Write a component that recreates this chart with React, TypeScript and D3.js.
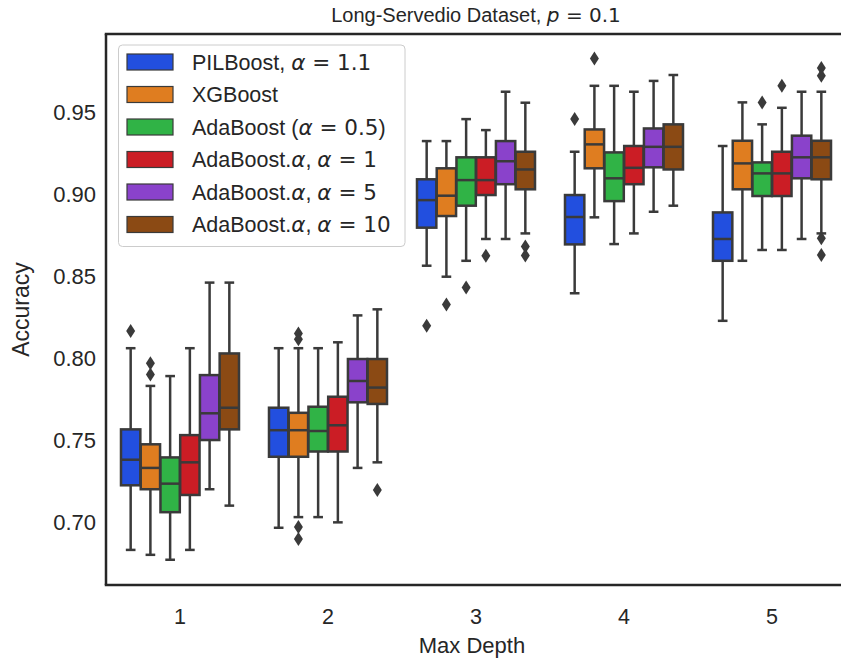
import React from "react";
import * as d3 from "d3";

// ---- data ----
const depths = ["1", "2", "3", "4", "5"];
const yTicks = [0.7, 0.75, 0.8, 0.85, 0.9, 0.95];

// [whisker low, q1, median, q3, whisker high] per depth
const pilboostStats = [
  [0.683, 0.7224, 0.738, 0.7565, 0.806],
  [0.6965, 0.7398, 0.756, 0.7697, 0.806],
  [0.8563, 0.8795, 0.8963, 0.909, 0.9323],
  [0.8395, 0.8693, 0.886, 0.8994, 0.9258],
  [0.8227, 0.8593, 0.8726, 0.8888, 0.9293],
];
const pilboostFliers = [[0.8165], [], [0.8197], [0.9457], []];

const xgboostStats = [
  [0.68, 0.72, 0.733, 0.7474, 0.783],
  [0.703, 0.7398, 0.756, 0.7666, 0.806],
  [0.8496, 0.8866, 0.899, 0.9157, 0.9323],
  [0.8858, 0.9157, 0.9303, 0.9394, 0.966],
  [0.8593, 0.9029, 0.9187, 0.9325, 0.9559],
];
const xgboostFliers = [[0.7968, 0.79], [0.815, 0.8115, 0.697, 0.6896], [0.8327], [0.9827], []];

const adaHalfStats = [
  [0.677, 0.706, 0.7234, 0.7394, 0.789],
  [0.703, 0.743, 0.7555, 0.7703, 0.806],
  [0.8593, 0.8929, 0.9085, 0.9224, 0.9457],
  [0.8695, 0.8957, 0.9096, 0.9254, 0.966],
  [0.8659, 0.8988, 0.9126, 0.9193, 0.9425],
];
const adaHalfFliers = [[], [], [0.843], [], [0.9559]];

const ada1Stats = [
  [0.683, 0.7165, 0.7364, 0.753, 0.806],
  [0.6998, 0.743, 0.759, 0.7764, 0.8096],
  [0.8726, 0.8994, 0.9085, 0.9224, 0.939],
  [0.876, 0.906, 0.916, 0.9293, 0.9624],
  [0.8659, 0.8988, 0.9126, 0.9258, 0.9526],
];
const ada1Fliers = [[], [], [0.8624], [], [0.966]];

const ada5Stats = [
  [0.72, 0.75, 0.7663, 0.7896, 0.846],
  [0.733, 0.773, 0.786, 0.7994, 0.826],
  [0.8726, 0.906, 0.92, 0.9323, 0.9624],
  [0.8892, 0.9163, 0.9288, 0.94, 0.969],
  [0.8726, 0.9096, 0.9224, 0.9356, 0.9624],
];
const ada5Fliers = [[], [], [], [], []];

const ada10Stats = [
  [0.71, 0.7565, 0.7697, 0.8028, 0.846],
  [0.7364, 0.772, 0.782, 0.7994, 0.8297],
  [0.876, 0.9029, 0.915, 0.9258, 0.9557],
  [0.8929, 0.915, 0.9288, 0.9425, 0.9726],
  [0.876, 0.909, 0.9224, 0.9325, 0.9624],
];
const ada10Fliers = [[], [0.7195], [0.868, 0.8625], [], [0.873, 0.8628, 0.9768, 0.9722]];

const seriesNames = ["pil", "xgb", "adaHalf", "ada1", "ada5", "ada10"];
const seriesColors = ["#224fdf", "#df7d20", "#30b346", "#cb1d25", "#8a42cb", "#8b4a14"];
const seriesStats = [pilboostStats, xgboostStats, adaHalfStats, ada1Stats, ada5Stats, ada10Stats];
const seriesFliers = [pilboostFliers, xgboostFliers, adaHalfFliers, ada1Fliers, ada5Fliers, ada10Fliers];

const W = 841;
const H = 662;
const M = { left: 106, right: 846, top: 34, bottom: 585 };
const LINE = "#3a3a3a";
const TXT = "#262626";
const SANS = "'Liberation Sans', Arial, Helvetica, sans-serif";
const MATH = "'DejaVu Sans', sans-serif";

function LegendLabel({ i }: { i: number }) {
  const a = (
    <tspan fontFamily={MATH} fontStyle="italic">α</tspan>
  );
  const m = (s: string) => <tspan fontFamily={MATH}>{s}</tspan>;
  switch (i) {
    case 0:
      return <>PILBoost, {a}{m(" = 1.1")}</>;
    case 1:
      return <>XGBoost</>;
    case 2:
      return <>AdaBoost ({a}{m(" = 0.5")})</>;
    case 3:
      return <>AdaBoost.{a}, {a}{m(" = 1")}</>;
    case 4:
      return <>AdaBoost.{a}, {a}{m(" = 5")}</>;
    default:
      return <>AdaBoost.{a}, {a}{m(" = 10")}</>;
  }
}

export default function App() {
  const x = d3.scaleBand<string>().domain(depths).range([M.left, M.right]).padding(0);
  const y = d3.scaleLinear().domain([0.6616, 0.9976]).range([M.bottom, M.top]);
  const hue = d3
    .scaleBand<string>()
    .domain(seriesNames)
    .range([0, x.bandwidth() * 0.8]);
  const hueOffset = x.bandwidth() * 0.1;
  const bw = hue.bandwidth() * 0.98;

  const diamond = (cx: number, cy: number) =>
    `M${cx},${cy - 7} L${cx + 4.5},${cy} L${cx},${cy + 7} L${cx - 4.5},${cy} Z`;

  return (
    <svg width={W} height={H} style={{ position: "absolute", left: 0, top: 0, background: "#fff" }}>
      <defs>
        <clipPath id="clipPlot">
          <rect x={M.left} y={M.top} width={M.right - M.left} height={M.bottom - M.top} />
        </clipPath>
      </defs>
      {/* title */}
      <text x={(M.left + M.right) / 2} y={22} textAnchor="middle" fontFamily={SANS} fontSize={20} fill={TXT}>
        Long-Servedio Dataset, <tspan fontFamily={MATH} fontStyle="italic">p</tspan>
        <tspan fontFamily={MATH}> = 0.1</tspan>
      </text>

      {/* boxes */}
      <g clipPath="url(#clipPlot)">
        {seriesNames.map((s, si) =>
          depths.map((d, di) => {
            const [lo, q1, med, q3, hi] = seriesStats[si][di];
            const cx = (x(d) as number) + hueOffset + (hue(s) as number) + hue.bandwidth() / 2;
            const x0 = cx - bw / 2;
            const capW = bw / 4;
            return (
              <g key={s + d}>
                <line x1={cx} x2={cx} y1={y(q3)} y2={y(hi)} stroke={LINE} strokeWidth={2.5} />
                <line x1={cx} x2={cx} y1={y(q1)} y2={y(lo)} stroke={LINE} strokeWidth={2.5} />
                <line x1={cx - capW} x2={cx + capW} y1={y(hi)} y2={y(hi)} stroke={LINE} strokeWidth={2.5} />
                <line x1={cx - capW} x2={cx + capW} y1={y(lo)} y2={y(lo)} stroke={LINE} strokeWidth={2.5} />
                <rect
                  x={x0}
                  y={y(q3)}
                  width={bw}
                  height={y(q1) - y(q3)}
                  fill={seriesColors[si]}
                  stroke={LINE}
                  strokeWidth={2.5}
                />
                <line x1={x0} x2={x0 + bw} y1={y(med)} y2={y(med)} stroke={LINE} strokeWidth={2.5} />
                {seriesFliers[si][di].map((f, fi) => (
                  <path key={fi} d={diamond(cx, y(f))} fill={LINE} />
                ))}
              </g>
            );
          })
        )}
      </g>

      {/* spines */}
      <line x1={M.left} x2={M.left} y1={M.top} y2={M.bottom} stroke={TXT} strokeWidth={2.5} />
      <line x1={M.left - 1.25} x2={W} y1={M.top} y2={M.top} stroke={TXT} strokeWidth={2.5} />
      <line x1={M.left - 1.25} x2={W} y1={M.bottom} y2={M.bottom} stroke={TXT} strokeWidth={2.5} />

      {/* y ticks */}
      {yTicks.map((t) => (
        <text
          key={t}
          x={96}
          y={y(t)}
          dy="0.36em"
          textAnchor="end"
          fontFamily={SANS}
          fontSize={22}
          fill={TXT}
        >
          {d3.format(".2f")(t)}
        </text>
      ))}
      {/* x ticks */}
      {depths.map((d) => (
        <text
          key={d}
          x={(x(d) as number) + x.bandwidth() / 2}
          y={624}
          textAnchor="middle"
          fontFamily={SANS}
          fontSize={21.5}
          fill={TXT}
        >
          {d}
        </text>
      ))}
      <text x={(M.left + M.right) / 2 - 4} y={653} textAnchor="middle" fontFamily={SANS} fontSize={22} fill={TXT}>
        Max Depth
      </text>
      <text
        transform={`translate(29,${(M.top + M.bottom) / 2}) rotate(-90)`}
        textAnchor="middle"
        fontFamily={SANS}
        fontSize={23}
        fill={TXT}
      >
        Accuracy
      </text>

      {/* legend */}
      <rect x={118.5} y={45} width={286.5} height={201.5} rx={4} fill="#fff" fillOpacity={0.8} stroke="#cccccc" strokeWidth={1} />
      {seriesNames.map((s, i) => {
        const cy = 62 + i * 32.5;
        return (
          <g key={s}>
            <rect x={127} y={cy - 8} width={46} height={16} fill={seriesColors[i]} stroke={LINE} strokeWidth={1.2} />
            <text x={192} y={cy} dy="0.36em" fontFamily={SANS} fontSize={21.5} fill={TXT}>
              <LegendLabel i={i} />
            </text>
          </g>
        );
      })}
    </svg>
  );
}
